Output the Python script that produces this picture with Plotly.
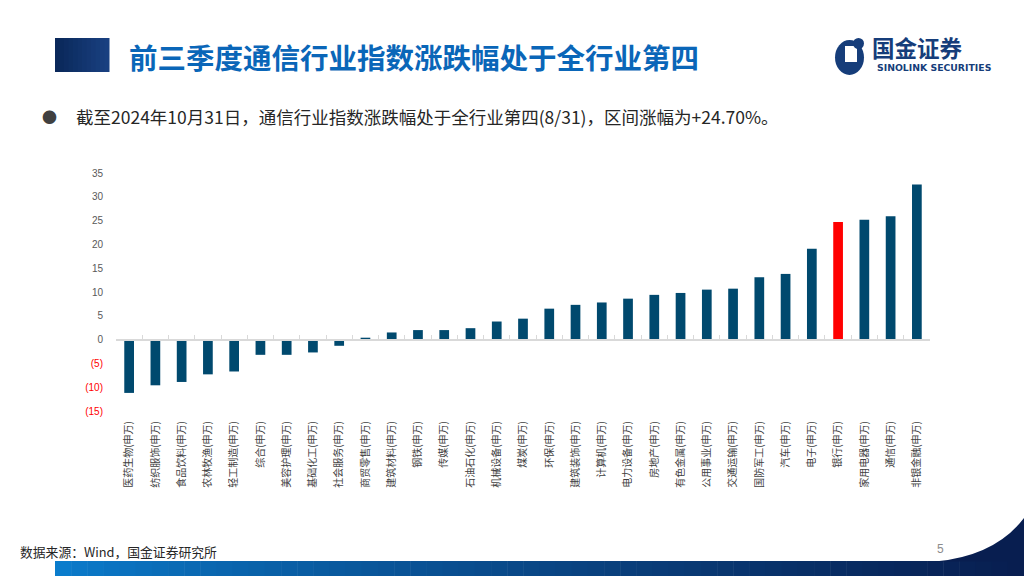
import plotly.graph_objects as go

W, H = 1024, 576
ML, MR, MT, MB = 116, 94, 173, 165

categories = ["医药生物(申万)", "纺织服饰(申万)", "食品饮料(申万)", "农林牧渔(申万)", "轻工制造(申万)",
              "综合(申万)", "美容护理(申万)", "基础化工(申万)", "社会服务(申万)", "商贸零售(申万)",
              "建筑材料(申万)", "钢铁(申万)", "传媒(申万)", "石油石化(申万)", "机械设备(申万)",
              "煤炭(申万)", "环保(申万)", "建筑装饰(申万)", "计算机(申万)", "电力设备(申万)",
              "房地产(申万)", "有色金属(申万)", "公用事业(申万)", "交通运输(申万)", "国防军工(申万)",
              "汽车(申万)", "电子(申万)", "银行(申万)", "家用电器(申万)", "通信(申万)", "非银金融(申万)"]
values = [-11.2, -9.6, -8.9, -7.3, -6.7, -3.2, -3.2, -2.7, -1.3, 0.4,
          1.5, 2.0, 2.0, 2.4, 3.8, 4.4, 6.5, 7.3, 7.8, 8.6,
          9.4, 9.8, 10.5, 10.7, 13.1, 13.8, 19.1, 24.7, 25.2, 25.9, 32.6]
highlight = "银行(申万)"
pos_tickvals = [0, 5, 10, 15, 20, 25, 30, 35]
pos_ticktext = ["0", "5", "10", "15", "20", "25", "30", "35"]
neg_tickvals = [-5, -10, -15]
neg_ticktext = ["(5)", "(10)", "(15)"]
y_range = [-15, 35]

NAVY = "#00496e"
RED = "#ff0000"
FONT = "Liberation Sans, Noto Sans CJK SC, sans-serif"
CJK = "Noto Sans CJK SC, sans-serif"

colors = [RED if c == highlight else NAVY for c in categories]

fig = go.Figure()
fig.add_trace(go.Bar(x=categories, y=values, marker=dict(color=colors, line=dict(width=0)),
                     width=0.37, hoverinfo="x+y", showlegend=False))
# invisible helper trace so the zero-line axis and the red tick axis are drawn
fig.add_trace(go.Scatter(x=categories, y=values, xaxis="x2", yaxis="y2", mode="lines",
                         line=dict(width=0), opacity=0, hoverinfo="skip", showlegend=False))

zero_pos = (0 - y_range[0]) / (y_range[1] - y_range[0])

fig.update_layout(
    width=W, height=H,
    margin=dict(l=ML, r=MR, t=MT, b=MB),
    paper_bgcolor="white", plot_bgcolor="white",
    xaxis=dict(type="category", categoryorder="array", categoryarray=categories,
               tickangle=-90, tickfont=dict(family=CJK, size=10, color="#404040"),
               showline=False, showgrid=False, zeroline=False, ticks="outside",
               ticklen=5, tickcolor="rgba(0,0,0,0)", range=[-0.5, len(categories) - 0.5]),
    xaxis2=dict(type="category", categoryorder="array", categoryarray=categories,
                overlaying="x", anchor="free", position=zero_pos, side="bottom",
                showticklabels=False, showline=True, linecolor="#d9d9d9", linewidth=1.5,
                ticks="inside", ticklen=4, tickcolor="#d9d9d9", tickwidth=1,
                tickson="boundaries", showgrid=False, zeroline=False,
                range=[-0.5, len(categories) - 0.5]),
    yaxis=dict(range=y_range, tickmode="array", tickvals=pos_tickvals, ticktext=pos_ticktext,
               tickfont=dict(family=FONT, size=10, color="#595959"), showgrid=False,
               zeroline=False, showline=False, ticks="", ticklabelstandoff=12),
    yaxis2=dict(range=y_range, overlaying="y", side="left", anchor="x",
                tickmode="array", tickvals=neg_tickvals, ticktext=neg_ticktext,
                tickfont=dict(family=FONT, size=10, color=RED), showgrid=False,
                zeroline=False, showline=False, ticks="", ticklabelstandoff=12),
)

pw, ph = W - ML - MR, H - MT - MB


def px(x):
    return (x - ML) / pw


def py(y):
    return (H - MB - y) / ph


shapes = []


def rect(x0, y0, x1, y1, color):
    shapes.append(dict(type="rect", xref="paper", yref="paper", x0=px(x0), x1=px(x1),
                       y0=py(y1), y1=py(y0), fillcolor=color, line=dict(width=0), layer="above"))


def lerp(c0, c1, t):
    return "rgb(%d,%d,%d)" % tuple(round(a + (b - a) * t) for a, b in zip(c0, c1))


# title block gradient
n = 12
for i in range(n):
    x0 = 55 + (109 - 55) * i / n
    x1 = 55 + (109 - 55) * (i + 1) / n + 0.5
    rect(x0, 38, x1, 72, lerp((10, 40, 90), (25, 64, 128), i / (n - 1)))

# bottom band gradient
n = 60
for i in range(n):
    x0 = 55 + (1024 - 55) * i / n
    x1 = 55 + (1024 - 55) * (i + 1) / n + 0.5
    rect(x0, 561, x1, 577, lerp((10, 124, 204), (8, 30, 80), (i / (n - 1)) ** 0.8))

# swoosh at bottom right
path = "M %f,%f Q %f,%f %f,%f L %f,%f Z" % (
    px(935), py(561.5), px(995), py(556), px(1024), py(518), px(1024), py(561.5))
shapes.append(dict(type="path", xref="paper", yref="paper", path=path,
                   fillcolor="rgb(8,30,80)", line=dict(width=0), layer="above"))

# logo icon
shapes.append(dict(type="circle", xref="paper", yref="paper", x0=px(835), x1=px(864),
                   y0=py(75), y1=py(40), fillcolor="#163d7a", line=dict(width=0)))
shapes.append(dict(type="rect", xref="paper", yref="paper", x0=px(845), x1=px(857),
                   y0=py(62), y1=py(46), fillcolor="white", line=dict(width=0)))
shapes.append(dict(type="circle", xref="paper", yref="paper", x0=px(853), x1=px(864),
                   y0=py(49), y1=py(38), fillcolor="#163d7a", line=dict(width=0)))
fig.update_layout(shapes=shapes)

ann = []


def text(x, y, s, size, color, family=CJK, xanchor="left", yanchor="middle"):
    ann.append(dict(text=s, x=px(x), y=py(y), xref="paper", yref="paper", showarrow=False,
                    xanchor=xanchor, yanchor=yanchor,
                    font=dict(family=family, size=size, color=color)))


text(870, 47, "<b>国金证券</b>", 22.5, "#163d7a")
text(127, 56, "<b>前三季度通信行业指数涨跌幅处于全行业第四</b>", 28.5, "#0a66b8")
text(875, 67, "<b>SINOLINK SECURITIES</b>", 9.3, "#163d7a", family="DejaVu Sans, sans-serif")
text(40, 117, "●", 15, "#404040")
text(74, 117, "截至2024年10月31日，通信行业指数涨跌幅处于全行业第四(8/31)，区间涨幅为+24.70%。",
     17.5, "#262626")
text(18, 551, "数据来源：Wind，国金证券研究所", 12.8, "#262626")
text(940, 549, "5", 12, "#8c8c8c", family=FONT, xanchor="center")
fig.update_layout(annotations=ann)

fig.write_html("out.html", config={"displayModeBar": False},
               post_script="document.body.style.margin='0';")
